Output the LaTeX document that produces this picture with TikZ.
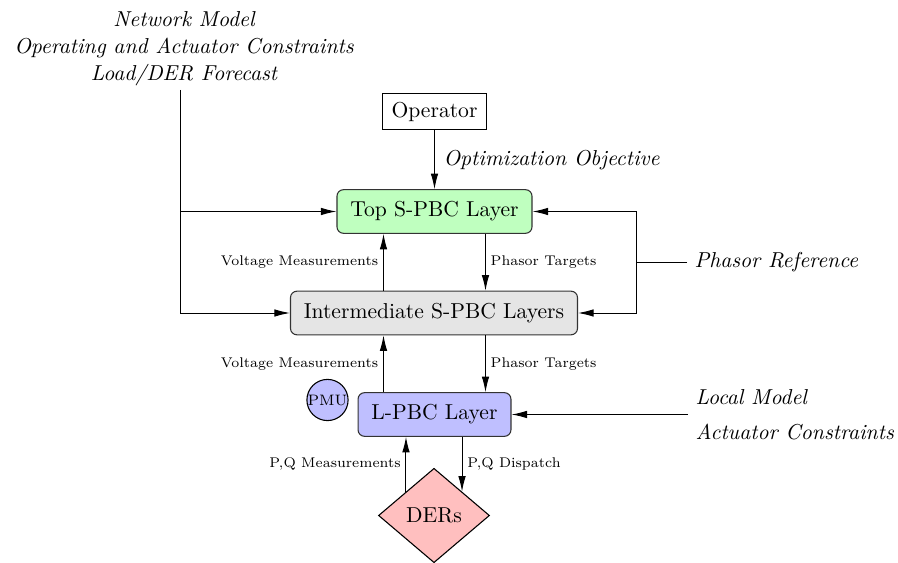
\documentclass[tikz,border=0pt]{standalone}
\usetikzlibrary{shapes.geometric,arrows.meta,calc}
\begin{document}
\begin{tikzpicture}[x=0.463pt,y=-0.463pt,
  arr/.style={-{Latex[length=7.2pt,width=3.5pt]}, line width=0.45pt},
  plain/.style={line width=0.45pt},
  box/.style={draw=black!80, rounded corners=3pt, line width=0.5pt, minimum height=20.2pt, inner sep=0pt},
  lab/.style={font=\fontsize{6.5pt}{8pt}\selectfont, inner sep=2.2pt},
  ital/.style={font=\itshape}]
\useasboundingbox (0,0) rectangle (898,563);
\node[ital, align=center, text depth=0pt] (net) at (184,46) {Network Model\\[0.6pt]Operating and Actuator Constraints\\[0.6pt]Load/DER Forecast};
\coordinate (n0) at (180,90);
\node[draw, line width=0.5pt, minimum width=48pt, minimum height=17pt, inner sep=0pt] (op) at (434.5,111.5) {Operator};
\node[box, fill=green!25, minimum width=90.3pt] (top) at (434.5,211.5) {Top S-PBC Layer};
\node[box, fill=gray!20, minimum width=132.9pt] (mid) at (434,313) {Intermediate S-PBC Layers};
\node[box, fill=blue!25, minimum width=70.8pt] (lpbc) at (434.5,414.5) {L-PBC Layer};
\node[circle, draw, fill=blue!25, font=\scriptsize, inner sep=0pt, minimum size=18.5pt, line width=0.5pt] (pmu) at (327.5,400) {PMU};
\node[diamond, draw, fill=red!25, inner sep=0pt, minimum width=51.4pt, minimum height=43.7pt, line width=0.5pt] (der) at (434,515.5) {DERs};
\node[ital, anchor=west] (ref) at (687,262) {Phasor Reference};
\node[ital, anchor=west, align=left] (loc) at (688,415) {Local Model\\[4pt]Actuator Constraints};
\coordinate (pr) at (636.7,262);

\draw[arr] (n0) |- (mid.west);
\draw[arr] (n0 |- top.west) -- (top.west);
\draw[arr] (op.south) -- (top.north) node[midway, right, ital, inner sep=4pt] {Optimization Objective};

\coordinate (va) at ($(top.south)+(-51,0)$);
\coordinate (pa) at ($(top.south)+(51,0)$);
\draw[arr] (va |- mid.north) -- (va) node[midway, left, lab] {Voltage Measurements};
\draw[arr] (pa) -- (pa |- mid.north) node[midway, right, lab] {Phasor Targets};

\coordinate (vb) at ($(lpbc.north)+(-51,0)$);
\coordinate (pb) at ($(lpbc.north)+(51,0)$);
\draw[arr] (vb) -- (vb |- mid.south) node[midway, left, lab] {Voltage Measurements};
\draw[arr] (pb |- mid.south) -- (pb) node[midway, right, lab] {Phasor Targets};

\draw[arr] (der.north west) -- (der.north west |- lpbc.south) node[midway, left, lab] {P,Q Measurements};
\draw[arr] (der.north east |- lpbc.south) -- (der.north east) node[midway, right, lab] {P,Q Dispatch};

\draw[plain] (ref.west) -- (pr);
\draw[arr] (pr |- top.east) -- (top.east);
\draw[arr] (pr |- top.east) |- (mid.east);
\draw[arr] (loc.west |- lpbc.east) -- (lpbc.east);
\end{tikzpicture}
\end{document}
